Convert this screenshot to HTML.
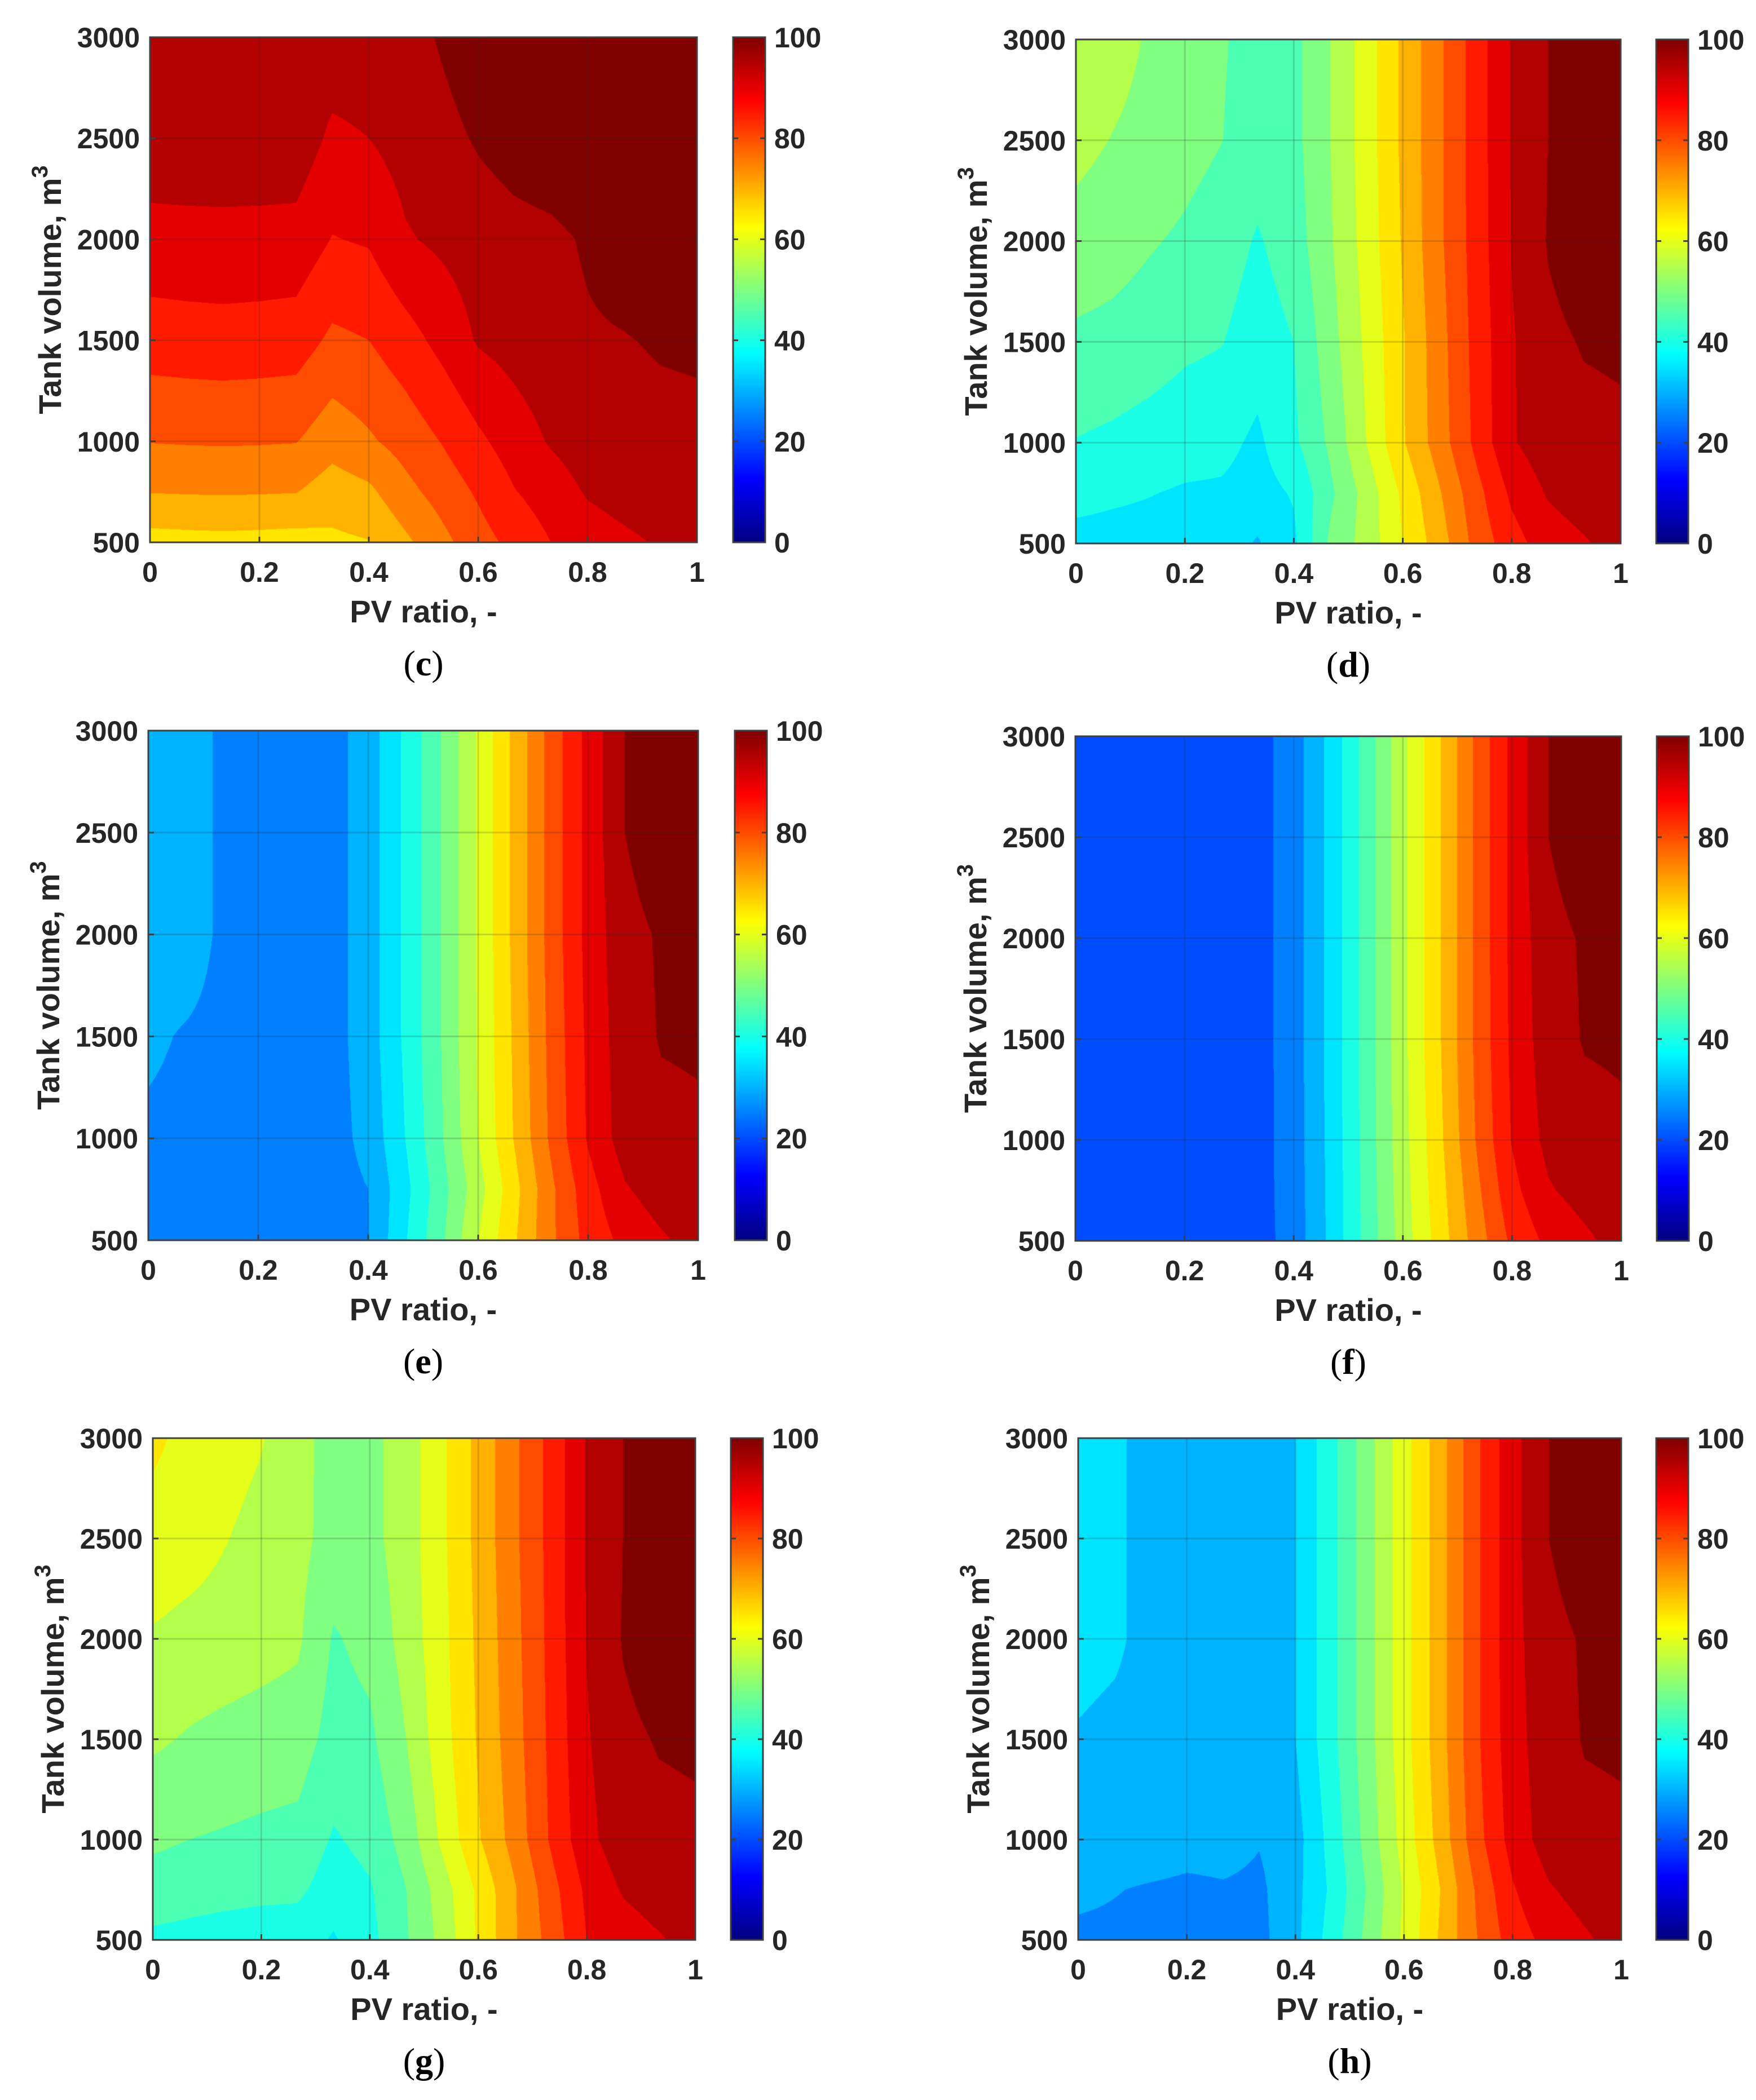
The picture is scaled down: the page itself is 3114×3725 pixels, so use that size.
<!DOCTYPE html>
<html><head><meta charset="utf-8">
<style>
html,body{margin:0;padding:0;background:#fff;}
#root{position:relative;width:3114px;height:3725px;overflow:hidden;background:#fff;}
canvas{position:absolute;display:block;}
svg{position:absolute;left:0;top:0;}
</style></head>
<body>
<div id="root">
<svg id="ov" width="3114" height="3725"></svg>
</div>
<script>
// ---- shared grid (PV ratio, tank volume) ----
const xGrid = [0,0.067,0.133,0.2,0.267,0.333,0.4,0.467,0.533,0.6,0.667,0.733,0.8,0.867,0.933,1];
const yGrid = [500,750,1000,1500,2000,2500,3000];
const xTicks = [0,0.2,0.4,0.6,0.8,1];
const xTickLabels = ['0','0.2','0.4','0.6','0.8','1'];
const yTicks = [500,1000,1500,2000,2500,3000];
const cbTicks = [0,20,40,60,80,100];
// ---- values (rows bottom->top: 500,750,1000,1500,2000,2500,3000) ----
const valuesC = [
[63,63.3,63.5,63.3,63,64,64.8,69,73.5,78,81.5,85,87.5,89,90.5,92],
[70.2,70.4,70.5,70.4,70.2,67.5,69,73.5,77,80.7,84.8,87.5,90.5,92,93,93.5],
[75.2,75.4,75.5,75.4,75.2,72,74.3,77,80.2,84,87.5,90.5,92.5,93.3,93.8,94],
[82.5,82.8,83,82.8,82.5,79,80,83,86.5,90.5,92,93.5,94.5,94.8,95.4,95.6],
[88.3,88.5,88.6,88.5,88.3,84.8,85.5,89.5,91,92.5,93.5,94,95.5,97,98,99],
[93,93,93,93,93,89,90,92,93.5,95.5,97,98,99,99,99,99],
[93,93,93,93,93,93,93,93,95.5,98,99,99,99,99,99,99]];
const valuesD = [
[33.5,33.3,33.2,33,32.8,29.5,34,46,52,60,67.5,76.5,83,87.5,89.5,92],
[36.5,35.8,35.2,34.5,34.3,33,35.5,44,52,61,69.5,78,86,90.5,92.5,93.5],
[39.8,39,38,37,36.5,34,39,46,55,64.5,72.5,81,89.5,93,93.8,94.2],
[44,43.5,42.5,41,40.2,37.5,40,48,56,64.5,73,81.5,89.5,94,95.3,95.6],
[48.2,47,45.5,44.2,42.5,39.5,42.5,49.5,57,65.5,74,82,90.2,95.3,97.5,98.5],
[51.5,49.8,48.5,46.8,45.1,42.5,43.5,50,57.5,66,74,82.2,90.3,95,98,99],
[53.5,52,49.5,47.5,45.5,43,43.5,50,57.5,66,74,82.2,90.3,95,98,99]];
const valuesE = [
[24,23.5,23.3,23,23,23,24.8,34.5,44,55,64.5,74,81.8,86.4,89.3,92],
[24,23.5,23.3,23,23,23,25,33.5,43,53,63.5,74,83,89.5,92.5,93.5],
[24,23.5,23.3,23,23,23,26.5,35,44.5,55,65.5,76,85.5,92.5,93.8,94.2],
[26,24.5,23.5,23,23,23,27.5,35.9,45.1,55.5,66,76.5,86,93,95.3,95.6],
[28,28,24,23,23,23,27.5,35.9,45.1,55.6,66.5,77,86.6,93.5,95.5,98],
[28,28,24,23,23,23,27.5,35.9,45.1,55.6,66.5,77,86.6,95,98,99],
[28,28,24,23,23,23,27.5,35.9,45.1,55.6,66.5,77,86.6,95,98,99]];
const valuesF = [
[18,18,18,18,18,18,22,31.2,41.6,52.3,62.3,72,81.1,86.2,89,92],
[18,18,18,18,18,18,22.3,31.2,41.8,52.8,63,73.5,83.5,89.5,92,93.5],
[18,18,18,18,18,18,22.4,31.4,42,53.2,63.8,75,85.3,91.5,93.5,94.2],
[18,18,18,18,18,18,22.5,31.6,42.2,53.6,64.5,75.8,86,93,95.3,95.6],
[18,18,18,18,18,18,22.5,31.6,42.2,53.6,64.5,75.8,86.3,93.5,95.5,98],
[18,18,18,18,18,18,22.5,31.6,42.2,53.6,64.5,75.8,86.3,95,98,99],
[18,18,18,18,18,18,22.5,31.6,42.2,53.6,64.5,75.8,86.3,95,98,99]];
const valuesG = [
[39,38.5,38,37.5,37.3,34.5,38.5,44.5,51.5,60.7,69.5,76.8,85,87.5,89.5,92],
[42.7,42,41.5,41.2,41,37.5,39.5,45,52.5,61,69.5,78,86,90.5,92.5,93.5],
[46,45,44.5,44,43.5,39.5,41.5,47,56,64.5,72,80.5,88.5,93,93.8,94.2],
[50.8,49.5,48.5,47.8,47.5,43,44,50,58,65.5,73,81,89.5,94,95.3,95.6],
[54.5,53.5,53,52,50.8,44.5,46.5,52,58.5,66,73.5,81.3,90.2,95.3,97.5,98.5],
[58,57,55.2,53.5,51.5,48,48.5,52.5,59,66.5,74,81.5,90.3,95,98,99],
[61,58.5,57,55.3,51.7,48,48.5,52.5,59,66.5,74,81.5,90.3,95,98,99]];
const valuesH = [
[24,24,24,23.8,23.8,23.5,28.7,37.3,46.5,56,65.7,74.7,82.4,86.6,89.3,92],
[26,25.2,24.5,24,24.5,24,28.5,36,45.5,55.5,65,75.5,84.5,89.5,92,93.5],
[28,28,28,27,27,25.3,28,37,47,57,67,78,87,92.5,93.8,94.2],
[29.5,28.5,28,28,28,28,30,38.5,48,58,68,79,88,93,95.3,95.6],
[32,31,28,28,28,28,30,38.5,48,58,68,79,88.4,93.5,95.5,98],
[32,31,28,28,28,28,30,38.5,48,58,68,79,88.4,95,98,99],
[32,31,28,28,28,28,30,38.5,48,58,68,79,88.4,95,98,99]];

const panels = [
 {id:'c', v:valuesC, px:266, py:66, pw:970, ph:896, cb:1300},
 {id:'d', v:valuesD, px:1908, py:70, pw:966, ph:894, cb:2937},
 {id:'e', v:valuesE, px:263, py:1296, pw:975, ph:904, cb:1303},
 {id:'f', v:valuesF, px:1907, py:1306, pw:968, ph:895, cb:2938},
 {id:'g', v:valuesG, px:271, py:2551, pw:962, ph:890, cb:1296},
 {id:'h', v:valuesH, px:1912, py:2551, pw:963, ph:890, cb:2937}
];

function clamp(a){return a<0?0:(a>1?1:a);}
function jet(t){
  return [clamp(Math.min(4*t-1.5,-4*t+4.5)), clamp(Math.min(4*t-0.5,-4*t+3.5)), clamp(Math.min(4*t+0.5,-4*t+2.5))];
}
function interp(v,x,y){
  let k=0; while(k<xGrid.length-2 && x>xGrid[k+1]) k++;
  let r=0; while(r<yGrid.length-2 && y>yGrid[r+1]) r++;
  const tx=(x-xGrid[k])/(xGrid[k+1]-xGrid[k]);
  const ty=(y-yGrid[r])/(yGrid[r+1]-yGrid[r]);
  const a=v[r][k]*(1-tx)+v[r][k+1]*tx;
  const b=v[r+1][k]*(1-tx)+v[r+1][k+1]*tx;
  return a*(1-ty)+b*ty;
}
const root=document.getElementById('root');
const ov=document.getElementById('ov');
const NS='http://www.w3.org/2000/svg';
function sv(tag){return document.createElementNS(NS,tag);}
function txt(x,y,s,size,anchor,weight,family){
  const t=sv('text');
  t.setAttribute('x',x); t.setAttribute('y',y);
  t.setAttribute('font-size',size); t.setAttribute('text-anchor',anchor);
  t.setAttribute('font-weight',weight);
  t.setAttribute('font-family',family||'"Liberation Sans", Arial, sans-serif');
  t.setAttribute('fill','#262626');
  t.textContent=s; ov.appendChild(t); return t;
}
function line(x1,y1,x2,y2,stroke,w){
  const l=sv('line');
  l.setAttribute('x1',x1);l.setAttribute('y1',y1);l.setAttribute('x2',x2);l.setAttribute('y2',y2);
  l.setAttribute('stroke',stroke);l.setAttribute('stroke-width',w);
  ov.appendChild(l); return l;
}

panels.forEach(p=>{
  const cv=document.createElement('canvas');
  
  
  cv.width=p.pw; cv.height=p.ph;
  cv.style.left=p.px+'px'; cv.style.top=p.py+'px';
  root.insertBefore(cv, ov);
  const ctx=cv.getContext('2d');
  const img=ctx.createImageData(p.pw,p.ph);
  const cache={};
  for(let j=0;j<p.ph;j++){
    const yv=3000-(j/(p.ph-1))*2500;
    for(let i=0;i<p.pw;i++){
      const xv=i/(p.pw-1);
      let val=interp(p.v,xv,yv);
      let lev=Math.ceil(val/5)*5; if(lev<5)lev=5; if(lev>100)lev=100;
      let c=cache[lev]; if(!c){c=jet(lev/100).map(q=>Math.round(q*255)); cache[lev]=c;}
      const o=(j*p.pw+i)*4;
      img.data[o]=c[0];img.data[o+1]=c[1];img.data[o+2]=c[2];img.data[o+3]=255;
    }
  }
  ctx.putImageData(img,0,0);

  const xs=v=>p.px+v*p.pw;
  const ys=v=>p.py+p.ph-(v-500)/2500*p.ph;
  xTicks.forEach((t,i)=>{
    if(i>0&&i<xTicks.length-1){
      const g=line(xs(t),p.py,xs(t),p.py+p.ph,'rgba(40,40,40,0.18)',3);
      
      
    }
  });
  yTicks.forEach((t,i)=>{
    if(i>0&&i<yTicks.length-1){
      const g=line(p.px,ys(t),p.px+p.pw,ys(t),'rgba(40,40,40,0.18)',3);
      
      
    }
  });
  const fr=sv('rect');
  fr.setAttribute('x',p.px);fr.setAttribute('y',p.py);fr.setAttribute('width',p.pw);fr.setAttribute('height',p.ph);
  fr.setAttribute('fill','none');fr.setAttribute('stroke','#404040');fr.setAttribute('stroke-width',3);
  
  
  ov.appendChild(fr);
  xTicks.forEach((t,i)=>{
    const tk=line(xs(t),p.py+p.ph,xs(t),p.py+p.ph-10,'#404040',3);
    
    
    const lb=txt(xs(t),p.py+p.ph+70,xTickLabels[i],50,'middle','bold');
    
    
  });
  yTicks.forEach(t=>{
    const tk=line(p.px,ys(t),p.px+10,ys(t),'#404040',3);
    
    
    const lb=txt(p.px-18,ys(t)+18,String(t),50,'end','bold');
    
    
  });
  const xt=txt(p.px+p.pw/2,p.py+p.ph+142,'PV ratio, -',56,'middle','bold');
  
  
  const cx=p.px-178, cy=p.py+p.ph/2;
  const yt=sv('text');
  yt.setAttribute('x',0);yt.setAttribute('y',0);
  yt.setAttribute('transform','translate('+(cx+20)+','+cy+') rotate(-90)');
  yt.setAttribute('font-size',56);yt.setAttribute('font-weight','bold');
  yt.setAttribute('text-anchor','middle');yt.setAttribute('fill','#262626');
  yt.setAttribute('font-family','"Liberation Sans", Arial, sans-serif');
  
  
  const ts1=sv('tspan'); ts1.textContent='Tank volume, m'; yt.appendChild(ts1);
  const ts2=sv('tspan'); ts2.setAttribute('dy','-24'); ts2.setAttribute('font-size','40'); ts2.textContent='3'; yt.appendChild(ts2);
  ov.appendChild(yt);
  const pl=sv('text');
  pl.setAttribute('x',p.px+p.pw/2);pl.setAttribute('y',p.py+p.ph+236);
  pl.setAttribute('text-anchor','middle');pl.setAttribute('font-size',64);
  pl.setAttribute('font-family','"Liberation Serif", "Times New Roman", serif');
  pl.setAttribute('fill','#000');
  
  
  const a1=sv('tspan');a1.textContent='(';pl.appendChild(a1);
  const a2=sv('tspan');a2.setAttribute('font-weight','bold');a2.textContent=p.id;pl.appendChild(a2);
  const a3=sv('tspan');a3.textContent=')';pl.appendChild(a3);
  ov.appendChild(pl);

  const cbw=57;
  const cc=document.createElement('canvas');
  
  
  cc.width=cbw; cc.height=p.ph;
  cc.style.left=p.cb+'px'; cc.style.top=p.py+'px';
  root.insertBefore(cc, ov);
  const c2=cc.getContext('2d');
  for(let j=0;j<p.ph;j++){
    const c=jet(1-j/(p.ph-1)).map(q=>Math.round(q*255));
    c2.fillStyle='rgb('+c[0]+','+c[1]+','+c[2]+')';
    c2.fillRect(0,j,cbw,1);
  }
  const cf=sv('rect');
  cf.setAttribute('x',p.cb);cf.setAttribute('y',p.py);cf.setAttribute('width',cbw);cf.setAttribute('height',p.ph);
  cf.setAttribute('fill','none');cf.setAttribute('stroke','#404040');cf.setAttribute('stroke-width',3);
  
  
  ov.appendChild(cf);
  cbTicks.forEach(t=>{
    const yy=p.py+p.ph-t/100*p.ph;
    if(t>0&&t<100){
      const k1=line(p.cb,yy,p.cb+9,yy,'#404040',3);
      
      
      const k2=line(p.cb+cbw-9,yy,p.cb+cbw,yy,'#404040',3);
      
      
    }
    const lb=txt(p.cb+cbw+16,yy+18,String(t),50,'start','bold');
    
    
  });
});
</script>
</body></html>
